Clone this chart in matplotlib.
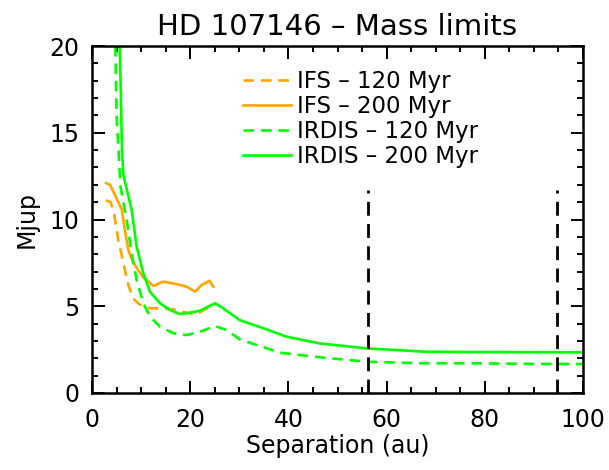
import matplotlib
matplotlib.use("Agg")
import matplotlib.pyplot as plt
from matplotlib.ticker import MultipleLocator

plt.rcParams['font.family'] = ['DejaVu Sans']

# IFS 120 Myr (dashed orange)
ifs120_x = [2.85, 3.8, 4.48, 5.36, 6.4, 7.4, 8.4, 9.4, 10.45, 11.8, 13.85, 16.6, 19.3, 21.2, 22.7, 24.0]
ifs120_y = [11.1, 11.0, 10.36, 8.8, 7.47, 6.22, 5.45, 5.17, 4.97, 4.88, 4.88, 4.82, 4.63, 4.5, 4.78, 4.97]

# IFS 200 Myr (solid orange)
ifs200_x = [2.85, 3.67, 4.7, 6.05, 6.7, 7.4, 8.3, 9.4, 10.45, 11.5, 12.5, 14.5, 17.2, 19.3, 21.0, 22.3, 23.9, 24.7]
ifs200_y = [12.1, 12.0, 11.4, 10.6, 9.4, 8.24, 7.57, 7.09, 6.67, 6.42, 6.17, 6.42, 6.28, 6.13, 5.84, 6.22, 6.47, 6.13]

# IRDIS 120 Myr (dashed green)
ird120_x = [4.7, 5.0, 5.8, 7.06, 8.08, 9.1, 10.45, 11.8, 13.85, 16.6, 19.3, 22.0, 25.0, 27.4, 30.1,
            38.3, 46.3, 56.0, 67.8, 78.4, 90.0, 100.0]
ird120_y = [21.0, 16.0, 11.9, 9.97, 8.06, 6.5, 5.17, 4.4, 3.82, 3.44, 3.34, 3.53, 3.86, 3.63, 3.09,
            2.32, 2.06, 1.8, 1.71, 1.71, 1.68, 1.67]

# IRDIS 200 Myr (solid green)
ird200_x = [5.56, 5.9, 6.1, 6.4, 8.08, 9.1, 10.45, 11.8, 13.85, 15.9, 17.9, 19.96, 22.0, 23.6, 25.05,
            26.7, 30.1, 34.9, 39.6, 46.3, 56.0, 67.8, 78.4, 93.9, 100.0]
ird200_y = [21.0, 17.0, 14.0, 12.56, 10.55, 8.43, 6.9, 5.84, 5.17, 4.78, 4.55, 4.63, 4.74, 4.97, 5.17,
            4.88, 4.2, 3.73, 3.25, 2.86, 2.57, 2.38, 2.36, 2.35, 2.34]

vlines_x = [56.3, 94.8]
vline_top = 11.7

title = "HD 107146 – Mass limits"
labels = ["IFS – 120 Myr", "IFS – 200 Myr", "IRDIS – 120 Myr", "IRDIS – 200 Myr"]

orange = "#FFA500"
green = "#00FF00"

fig = plt.figure(figsize=(6.09, 4.70), dpi=100)
ax = fig.add_axes([92/609, 77/470, 491/609, 347/470])

lw = 1.9
l1, = ax.plot(ifs120_x, ifs120_y, color=orange, lw=lw, ls=(0, (4, 2.6)))
l2, = ax.plot(ifs200_x, ifs200_y, color=orange, lw=lw)
l3, = ax.plot(ird120_x, ird120_y, color=green, lw=lw, ls=(0, (4, 2.6)))
l4, = ax.plot(ird200_x, ird200_y, color=green, lw=lw)

for xv in vlines_x:
    ax.plot([xv, xv], [0, vline_top], color="black", lw=2.0, ls=(0, (5, 3)))

ax.set_xlim(0, 100)
ax.set_ylim(0, 20)
ax.xaxis.set_major_locator(MultipleLocator(20))
ax.xaxis.set_minor_locator(MultipleLocator(5))
ax.yaxis.set_major_locator(MultipleLocator(5))
ax.yaxis.set_minor_locator(MultipleLocator(1))
ax.tick_params(which='both', direction='in', top=True, right=True, width=1.4, labelsize=17)
ax.tick_params(axis='x', pad=11)
ax.tick_params(axis='y', pad=9)
ax.tick_params(which='major', length=9)
ax.tick_params(which='minor', length=4.5)
for s in ax.spines.values():
    s.set_linewidth(1.8)

ax.set_xlabel("Separation (au)", fontsize=17, labelpad=1)
ax.set_ylabel("Mjup", fontsize=17, labelpad=8)
ax.set_title(title, fontsize=21, pad=8)

leg = ax.legend([l1, l2, l3, l4], labels, loc='upper left', bbox_to_anchor=(0.265, 0.99),
                frameon=False, fontsize=16.5, handlelength=2.1, labelspacing=0.08, handletextpad=0.25)

fig.savefig("out.png", dpi=100)
